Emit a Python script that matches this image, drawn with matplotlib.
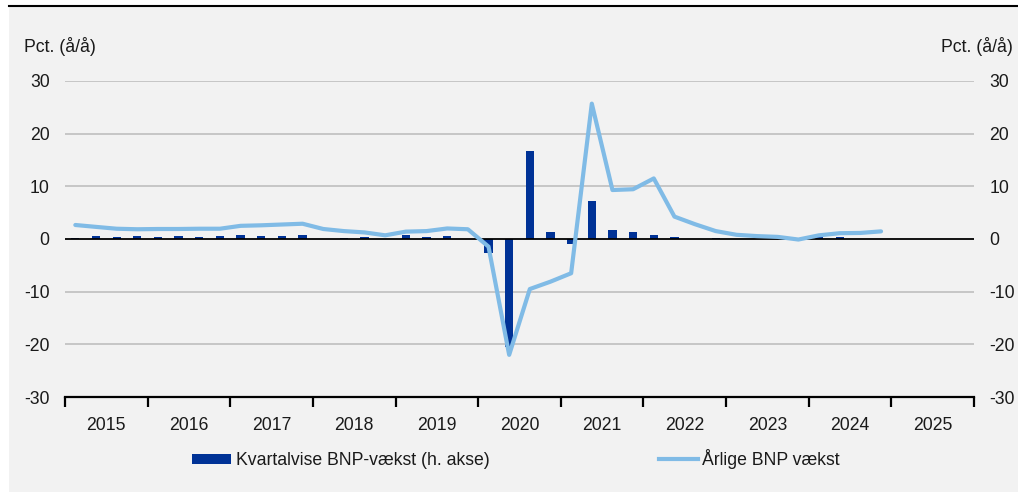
import numpy as np
import matplotlib
matplotlib.use("Agg")
import matplotlib.pyplot as plt
from matplotlib.patches import Rectangle
from matplotlib.lines import Line2D

plt.rcParams['font.family'] = ['Liberation Sans', 'DejaVu Sans']
plt.rcParams['font.size'] = 12.7

# Years on the x-axis, one slot per quarter
years = ['2015', '2016', '2017', '2018', '2019', '2020',
         '2021', '2022', '2023', '2024', '2025']

# Quarterly GDP growth (bars, right axis), 2015Q1-2024Q4
kvartal = [0.2, 0.55, 0.3, 0.55, 0.3, 0.55, 0.35, 0.55,
           0.75, 0.55, 0.55, 0.7, 0.05, 0.1, 0.3, 0.05,
           0.7, 0.3, 0.6, 0.05, -2.6, -20.5, 16.7, 1.3,
           -1.0, 7.2, 1.65, 1.4, 0.7, 0.3, 0.05, 0.25,
           0.05, 0.05, 0.05, 0.05, 0.3, 0.45, 0.05, 0.05]

# Annual GDP growth (line), 2015Q1-2024Q4
aarlig = [2.66, 2.3, 1.95, 1.85, 1.9, 1.9, 1.95, 1.95,
          2.5, 2.6, 2.75, 2.9, 1.9, 1.5, 1.25, 0.7,
          1.4, 1.5, 2.0, 1.85, -1.45, -22.0, -9.5, -8.1,
          -6.5, 25.7, 9.3, 9.45, 11.5, 4.25, 2.8, 1.5,
          0.8, 0.55, 0.4, -0.1, 0.7, 1.1, 1.15, 1.45]

W, H = 1018, 492
fig = plt.figure(figsize=(W / 100, H / 100), dpi=100, facecolor='white')

# grey panel with black rule along the top
fig.patches.append(Rectangle((9 / W, 0), 1 - 9 / W, (H - 7) / H,
                             transform=fig.transFigure, facecolor='#f2f2f2',
                             edgecolor='none', zorder=-5))
fig.add_artist(Line2D([9 / W, 1], [(H - 6) / H, (H - 6) / H],
                      transform=fig.transFigure, color='black', lw=1.5))

ax = fig.add_axes([65 / W, (H - 397) / H, (974 - 65) / W, (397 - 81) / H])
ax.set_facecolor('none')

x_bar = np.arange(len(kvartal)) + 0.5
x_line = np.arange(len(aarlig)) + 0.5

ax.set_ylim(-30, 30)
ax.set_xlim(0, 4 * len(years))

for y in [-20, -10, 10, 20, 30]:
    ax.axhline(y, color='#bfbfbf', lw=1.2, zorder=1)
ax.axhline(0, color='black', lw=1.3, zorder=3)

ax.bar(x_bar, kvartal, width=0.4, color='#003296', zorder=2)
ax.plot(x_line, aarlig, color='#80bbe6', lw=3.0, zorder=4,
        solid_joinstyle='round', solid_capstyle='round')

for s in ['top', 'left', 'right']:
    ax.spines[s].set_visible(False)
ax.spines['bottom'].set_linewidth(1.6)

ax.set_xticks(np.arange(0, 4 * len(years) + 1, 4))
ax.set_xticklabels([])
ax.set_xticks(np.arange(2, 4 * len(years), 4), minor=True)
ax.set_xticklabels(years, minor=True)
ax.tick_params(axis='x', which='major', direction='out', length=7, width=1.6)
ax.tick_params(axis='x', which='minor', length=0, pad=14.5, labelcolor='#1a1a1a')

yt = np.arange(-30, 31, 10)
ax.set_yticks(yt)
ax.set_yticklabels([str(v) for v in yt])
ax.tick_params(axis='y', length=0, pad=11, labelcolor='#1a1a1a')

ax2 = ax.twinx()
ax2.set_ylim(ax.get_ylim())
ax2.set_yticks(yt)
ax2.set_yticklabels([str(v) for v in yt])
ax2.tick_params(axis='y', length=0, pad=11, labelcolor='#1a1a1a')
for s in ax2.spines.values():
    s.set_visible(False)

fig.text(24 / W, (H - 46) / H, 'Pct. (å/å)', ha='left', va='center', color='#1a1a1a')
fig.text(1013 / W, (H - 46) / H, 'Pct. (å/å)', ha='right', va='center', color='#1a1a1a')

handles = [Rectangle((0, 0), 1, 1, facecolor='#003296'),
           Line2D([], [], color='#80bbe6', lw=3.0)]
labels = ['Kvartalvise BNP-vækst (h. akse)', 'Årlige BNP vækst']
fig.legend(handles, labels, loc='center', bbox_to_anchor=(516 / W, (H - 459) / H),
           ncol=2, frameon=False, handlelength=2.2, handleheight=0.5,
           handletextpad=0.25, columnspacing=9.6, labelcolor='#1a1a1a')

fig.savefig('out.png', dpi=100, facecolor='white')
